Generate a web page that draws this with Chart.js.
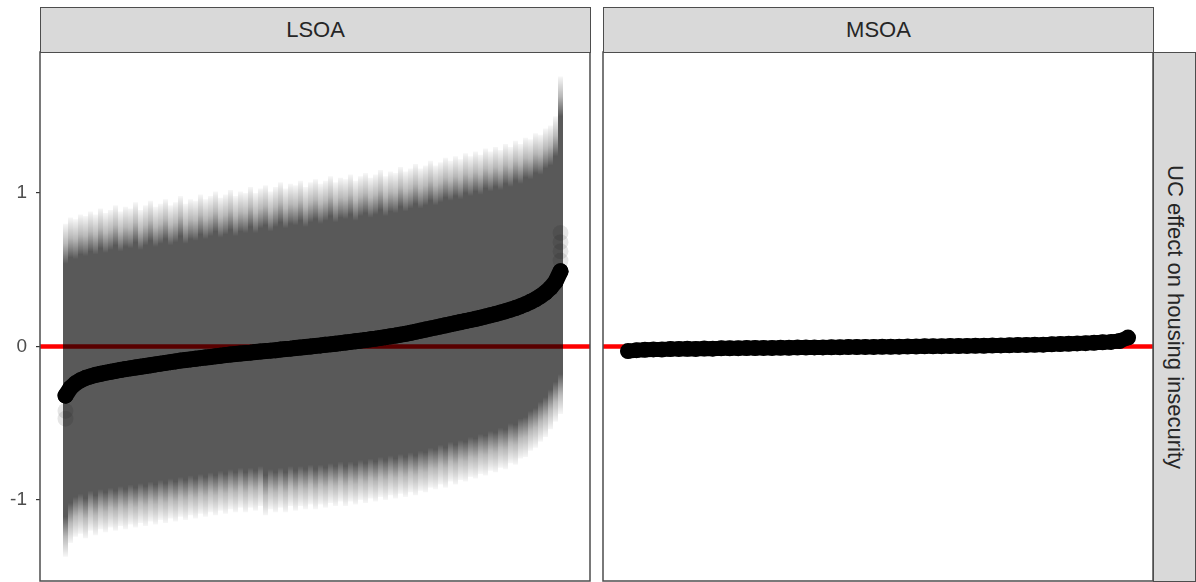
<!DOCTYPE html>
<html>
<head>
<meta charset="utf-8">
<script src="https://cdn.jsdelivr.net/npm/chart.js@4.4.1/dist/chart.umd.min.js"></script>
<style>
  body { margin: 0; background: #fff; width: 1196px; height: 582px; overflow: hidden; position: relative;
         font-family: "Liberation Sans", Arial, sans-serif; }
  canvas { position: absolute; top: 0; }
  .strip { position: absolute; background: #d9d9d9; border: 1.5px solid #4d4d4d; box-sizing: border-box;
           color: #262626; font-size: 22px; display: flex; align-items: center; justify-content: center; }
</style>
</head>
<body>
<canvas id="lsoa-chart" width="592" height="582" style="left:0"></canvas>
<canvas id="msoa-chart" width="558" height="582" style="left:598px"></canvas>
<div class="strip" id="strip-lsoa" style="left:40px;top:7px;width:551px;height:46px"></div>
<div class="strip" id="strip-msoa" style="left:603px;top:7px;width:551px;height:46px"></div>
<div class="strip" id="strip-right" style="left:1153px;top:52px;width:43px;height:530px;writing-mode:vertical-rl"></div>

<script>
const panels = ['LSOA', 'MSOA'];
const rowLabel = 'UC effect on housing insecurity';
const yTicks = [-1, 0, 1];

// LSOA: sorted area effects with their intervals
const lsoaEst = [
  -0.32, -0.27, -0.24, -0.22, -0.205, -0.195, -0.185, -0.178, -0.171, -0.165,
  -0.159, -0.153, -0.147, -0.142, -0.137, -0.132, -0.127, -0.122, -0.117, -0.112,
  -0.107, -0.102, -0.097, -0.092, -0.088, -0.084, -0.080, -0.076, -0.072, -0.068,
  -0.064, -0.060, -0.056, -0.052, -0.049, -0.046, -0.043, -0.040, -0.036, -0.033,
  -0.030, -0.027, -0.024, -0.020, -0.017, -0.014, -0.010, -0.007, -0.003, 0.000,
  0.004, 0.007, 0.011, 0.014, 0.018, 0.022, 0.026, 0.030, 0.034, 0.038,
  0.042, 0.047, 0.051, 0.056, 0.061, 0.066, 0.071, 0.077, 0.083, 0.089,
  0.096, 0.103, 0.110, 0.117, 0.124, 0.131, 0.138, 0.145, 0.152, 0.159,
  0.166, 0.173, 0.180, 0.188, 0.196, 0.204, 0.212, 0.221, 0.230, 0.240,
  0.251, 0.263, 0.276, 0.291, 0.308, 0.328, 0.352, 0.382, 0.422, 0.49
];
const lsoaHi = [
  0.80, 0.84, 0.83, 0.86, 0.85, 0.88, 0.86, 0.90, 0.87, 0.89,
  0.92, 0.88, 0.91, 0.90, 0.94, 0.89, 0.92, 0.95, 0.91, 0.93,
  0.96, 0.92, 0.94, 0.98, 0.93, 0.96, 0.95, 0.99, 0.96, 0.98,
  1.01, 0.97, 0.99, 1.02, 0.98, 1.01, 1.00, 1.04, 1.00, 1.03,
  1.05, 1.01, 1.04, 1.07, 1.03, 1.06, 1.05, 1.08, 1.04, 1.07,
  1.09, 1.06, 1.08, 1.11, 1.07, 1.10, 1.09, 1.12, 1.08, 1.11,
  1.13, 1.10, 1.12, 1.15, 1.11, 1.14, 1.13, 1.17, 1.14, 1.16,
  1.19, 1.16, 1.18, 1.21, 1.18, 1.20, 1.23, 1.21, 1.24, 1.22,
  1.26, 1.24, 1.27, 1.25, 1.29, 1.27, 1.30, 1.28, 1.32, 1.30,
  1.34, 1.32, 1.36, 1.35, 1.39, 1.38, 1.42, 1.44, 1.50, 1.76
];
const lsoaLo = [
  -1.37, -1.28, -1.24, -1.22, -1.25, -1.20, -1.23, -1.19, -1.21, -1.18,
  -1.20, -1.17, -1.19, -1.16, -1.18, -1.15, -1.17, -1.14, -1.16, -1.13,
  -1.15, -1.12, -1.14, -1.11, -1.13, -1.10, -1.12, -1.09, -1.11, -1.08,
  -1.10, -1.07, -1.09, -1.06, -1.08, -1.05, -1.08, -1.05, -1.07, -1.04,
  -1.10, -1.06, -1.08, -1.05, -1.08, -1.04, -1.07, -1.04, -1.06, -1.03,
  -1.06, -1.03, -1.05, -1.02, -1.04, -1.01, -1.04, -1.01, -1.03, -1.00,
  -1.02, -0.99, -1.01, -0.98, -1.00, -0.97, -0.99, -0.96, -0.98, -0.95,
  -0.97, -0.94, -0.95, -0.92, -0.93, -0.90, -0.92, -0.88, -0.90, -0.87,
  -0.88, -0.85, -0.86, -0.83, -0.84, -0.81, -0.82, -0.79, -0.80, -0.76,
  -0.77, -0.73, -0.72, -0.68, -0.66, -0.62, -0.59, -0.54, -0.49, -0.44
];
// faint draws at the two ends of the LSOA curve
const lsoaFaintX = [0, 0, 99, 99, 99, 99];
const lsoaFaintY = [-0.42, -0.47, 0.56, 0.62, 0.68, 0.74];

// MSOA: sorted area effects
const msoaEst = [
  -0.030, -0.024, -0.021, -0.019, -0.020, -0.017, -0.016, -0.015, -0.016, -0.013,
  -0.014, -0.012, -0.012, -0.011, -0.010, -0.010, -0.009, -0.009, -0.008, -0.008,
  -0.007, -0.007, -0.006, -0.006, -0.005, -0.005, -0.004, -0.004, -0.003, -0.003,
  -0.002, -0.002, -0.001, 0.000, 0.000, 0.001, 0.001, 0.002, 0.003, 0.003,
  0.004, 0.005, 0.005, 0.006, 0.007, 0.008, 0.009, 0.010, 0.011, 0.012,
  0.014, 0.016, 0.018, 0.020, 0.022, 0.024, 0.027, 0.030, 0.036, 0.058
];

const Y_MIN = -1.528, Y_MAX = 1.919;
const FONT = '"Liberation Sans", Arial, sans-serif';

document.getElementById('strip-lsoa').textContent = panels[0];
document.getElementById('strip-msoa').textContent = panels[1];
document.getElementById('strip-right').textContent = rowLabel;

const panelDeco = {
  id: 'panelDeco',
  beforeDatasetsDraw(chart) {
    const { ctx, chartArea: a, scales } = chart;
    const y0 = scales.y.getPixelForValue(0);
    ctx.save();
    ctx.strokeStyle = '#ff0000';
    ctx.lineWidth = 4.5;
    ctx.beginPath();
    ctx.moveTo(a.left, y0);
    ctx.lineTo(a.right, y0);
    ctx.stroke();
    ctx.restore();
  },
  afterDraw(chart) {
    const { ctx, chartArea: a } = chart;
    ctx.save();
    ctx.strokeStyle = '#4d4d4d';
    ctx.lineWidth = 1.5;
    ctx.strokeRect(a.left, a.top, a.right - a.left, a.bottom - a.top);
    ctx.restore();
  }
};

// each interval fades out towards its ends
function intervalFill(c) {
  const chart = c.chart;
  if (c.type !== 'data' || !chart.chartArea) return 'rgba(0,0,0,0.65)';
  const y = chart.scales.y;
  const top = y.getPixelForValue(c.raw.y[1]);
  const bot = y.getPixelForValue(c.raw.y[0]);
  const len = Math.max(bot - top, 1);
  const f = Math.min(0.45, 40 / len);
  const g = chart.ctx.createLinearGradient(0, top, 0, bot);
  g.addColorStop(0, 'rgba(0,0,0,0.03)');
  g.addColorStop(f * 0.5, 'rgba(0,0,0,0.28)');
  g.addColorStop(f, 'rgba(0,0,0,0.65)');
  g.addColorStop(1 - f, 'rgba(0,0,0,0.65)');
  g.addColorStop(1 - f * 0.5, 'rgba(0,0,0,0.28)');
  g.addColorStop(1, 'rgba(0,0,0,0.03)');
  return g;
}

function yScale(show) {
  return {
    display: show,
    min: Y_MIN, max: Y_MAX,
    afterBuildTicks: s => { s.ticks = yTicks.map(v => ({ value: v })); },
    afterFit: s => {
      if (show) s.width = 40;
      s.paddingTop = 0;
      s.paddingBottom = 0;
    },
    grid: { drawOnChartArea: false, drawTicks: true, tickLength: 4, color: '#333333', lineWidth: 1.2 },
    border: { display: false },
    ticks: { color: '#4d4d4d', padding: 9, font: { size: 19, family: FONT } }
  };
}

function baseOptions(xMin, xMax, padding, showY) {
  return {
    responsive: false,
    animation: false,
    layout: { padding, autoPadding: false },
    plugins: { legend: { display: false }, tooltip: { enabled: false } },
    scales: {
      x: { type: 'linear', display: false, offset: false, min: xMin, max: xMax },
      y: yScale(showY)
    }
  };
}

new Chart(document.getElementById('lsoa-chart'), {
  type: 'bar',
  data: {
    datasets: [
      {
        type: 'line',
        data: lsoaEst.map((v, i) => ({ x: i, y: v })),
        borderColor: '#000', borderWidth: 16, borderCapStyle: 'round', borderJoinStyle: 'round',
        pointRadius: 8, pointBackgroundColor: '#000', pointBorderWidth: 0
      },
      {
        type: 'scatter',
        data: lsoaFaintX.map((x, i) => ({ x, y: lsoaFaintY[i] })),
        pointRadius: 8, pointBackgroundColor: 'rgba(0,0,0,0.1)', pointBorderWidth: 0
      },
      {
        type: 'bar',
        data: lsoaLo.map((lo, i) => ({ x: i, y: [lo, lsoaHi[i]] })),
        backgroundColor: intervalFill,
        borderWidth: 0, inflateAmount: 0, grouped: false, barPercentage: 1, categoryPercentage: 1
      }
    ]
  },
  options: baseOptions(-5.1, 104.9, { top: 52, bottom: 1, right: 2, left: 0 }, true),
  plugins: [panelDeco]
});

new Chart(document.getElementById('msoa-chart'), {
  type: 'line',
  data: {
    datasets: [{
      data: msoaEst.map((v, i) => ({ x: i, y: v })),
      borderColor: '#000', borderWidth: 15, borderCapStyle: 'round', borderJoinStyle: 'round',
      pointRadius: 8, pointBackgroundColor: '#000', pointBorderWidth: 0
    }]
  },
  options: baseOptions(-2.95, 61.95, { top: 52, bottom: 1, right: 3, left: 5 }, false),
  plugins: [panelDeco]
});
</script>
</body>
</html>
